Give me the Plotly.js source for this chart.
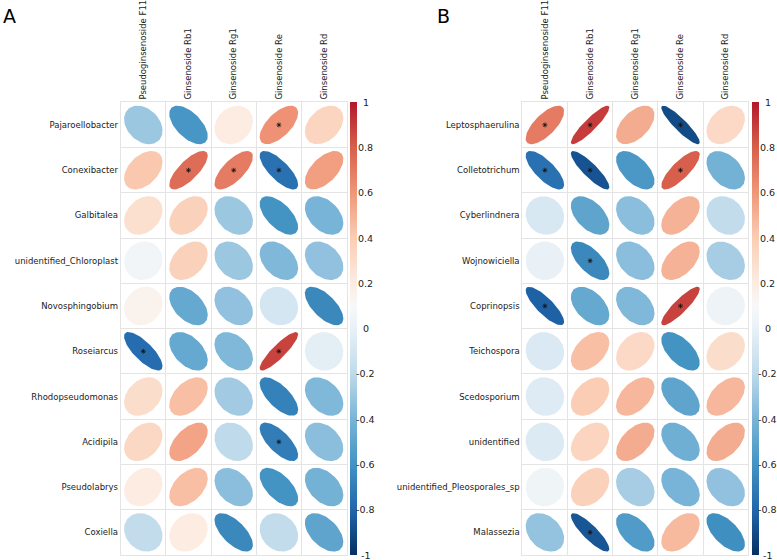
<!DOCTYPE html>
<html>
<head>
<meta charset="utf-8">
<script src="https://cdn.plot.ly/plotly-3.0.1.min.js"></script>
<style>html,body{margin:0;padding:0;background:#fff;}#chart{width:777px;height:560px;}</style>
</head>
<body>
<div id="chart"></div>
<script>
// ---------- data ----------
const columns = ["Pseudoginsenoside F11", "Ginsenoside Rb1", "Ginsenoside Rg1", "Ginsenoside Re", "Ginsenoside Rd"];

const rowsA = ["Pajaroellobacter", "Conexibacter", "Galbitalea", "unidentified_Chloroplast", "Novosphingobium",
               "Roseiarcus", "Rhodopseudomonas", "Acidipila", "Pseudolabrys", "Coxiella"];
const corrA = [
  [-0.30, -0.58,  0.20,  0.62,  0.35],
  [ 0.42,  0.75,  0.70, -0.75,  0.57],
  [ 0.28,  0.37, -0.30, -0.60, -0.40],
  [ 0.06,  0.37, -0.30, -0.38, -0.33],
  [ 0.15, -0.47, -0.33, -0.10, -0.65],
  [-0.77, -0.47, -0.38,  0.88, -0.03],
  [ 0.30,  0.45, -0.28, -0.68, -0.38],
  [ 0.33,  0.55, -0.20, -0.70, -0.35],
  [ 0.20,  0.45, -0.35, -0.60, -0.42],
  [-0.18,  0.20, -0.65, -0.18, -0.50]
];
const sigA = [
  [0,0,0,1,0],
  [0,1,1,1,0],
  [0,0,0,0,0],
  [0,0,0,0,0],
  [0,0,0,0,0],
  [1,0,0,1,0],
  [0,0,0,0,0],
  [0,0,0,1,0],
  [0,0,0,0,0],
  [0,0,0,0,0]
];

const rowsB = ["Leptosphaerulina", "Colletotrichum", "Cyberlindnera", "Wojnowiciella", "Coprinopsis",
               "Teichospora", "Scedosporium", "unidentified", "unidentified_Pleosporales_sp", "Malassezia"];
const corrB = [
  [ 0.70,  0.90,  0.52, -0.90,  0.32],
  [-0.75, -0.87, -0.57,  0.80, -0.42],
  [-0.08, -0.50, -0.35,  0.50, -0.18],
  [ 0.00, -0.65, -0.35,  0.50, -0.27],
  [-0.82, -0.47, -0.38,  0.88,  0.03],
  [-0.07,  0.45,  0.32, -0.60,  0.30],
  [-0.05,  0.40,  0.48, -0.50,  0.48],
  [-0.06,  0.35,  0.52, -0.43,  0.52],
  [ 0.04,  0.37, -0.27, -0.40, -0.33],
  [-0.32, -0.86, -0.55,  0.47, -0.62]
];
const sigB = [
  [1,1,0,1,0],
  [1,1,0,1,0],
  [0,0,0,0,0],
  [0,1,0,0,0],
  [1,0,0,1,0],
  [0,0,0,0,0],
  [0,0,0,0,0],
  [0,0,0,0,0],
  [0,0,0,0,0],
  [0,1,0,0,0]
];

const colorTicks = [-1, -0.8, -0.6, -0.4, -0.2, 0, 0.2, 0.4, 0.6, 0.8, 1];
const colorTickText = ["-1", "-0.8", "-0.6", "-0.4", "-0.2", "0", "0.2", "0.4", "0.6", "0.8", "1"];

// ---------- styling ----------
const W = 777, H = 560;
const FONT = "DejaVu Sans";
const stops = [
  [-1.0, [5, 48, 97]],
  [-0.8, [33, 102, 172]],
  [-0.6, [67, 147, 195]],
  [-0.4, [120, 180, 215]],
  [-0.2, [190, 218, 235]],
  [ 0.0, [233, 241, 247]],
  [ 0.1, [248, 248, 248]],
  [ 0.2, [252, 236, 226]],
  [ 0.4, [250, 205, 180]],
  [ 0.6, [240, 150, 120]],
  [ 0.8, [215, 95, 75]],
  [ 1.0, [178, 24, 43]]
];
const colorscale = stops.map(s => [(s[0] + 1) / 2, `rgb(${s[1].join(",")})`]);
function colorFor(v) {
  for (let i = 0; i < stops.length - 1; i++) {
    const [a, ca] = stops[i], [b, cb] = stops[i + 1];
    if (v >= a && v <= b) {
      const f = (v - a) / (b - a);
      const c = ca.map((x, k) => Math.round(x + f * (cb[k] - x)));
      return `rgb(${c.join(",")})`;
    }
  }
  return v < 0 ? `rgb(${stops[0][1].join(",")})` : `rgb(${stops[stops.length - 1][1].join(",")})`;
}

const RADIUS = 0.425;
const NPTS = 72;
function ellipse(cx, cy, r) {
  const d = Math.acos(Math.max(-1, Math.min(1, r)));
  const xs = [], ys = [];
  for (let i = 0; i <= NPTS; i++) {
    const t = 2 * Math.PI * i / NPTS;
    xs.push(cx + RADIUS * Math.cos(t + d / 2));
    ys.push(cy - RADIUS * Math.cos(t - d / 2));
  }
  return {xs, ys};
}

// colorbar geometry (pixels)
const CB_TOP = 102.3, CB_BOTTOM = 555, CB_W = 7;
const cbLen = (CB_BOTTOM - CB_TOP) / H;
const cbY0 = (H - CB_BOTTOM) / H;

const traces = [];
const annotations = [];
function addPanel(rows, corr, sig, xa, ya, cbXpx) {
  const xref = xa === 1 ? "x" : "x" + xa;
  const yref = ya === 1 ? "y" : "y" + ya;
  const cx = [], cy = [], cv = [], sx = [], sy = [];
  rows.forEach((rname, i) => {
    columns.forEach((cname, j) => {
      const v = corr[i][j];
      const e = ellipse(j + 1, i + 1, v);
      traces.push({
        type: "scatter", mode: "lines", x: e.xs, y: e.ys,
        fill: "toself", fillcolor: colorFor(v),
        line: {width: 0, color: colorFor(v)},
        xaxis: xref, yaxis: yref, showlegend: false, hoverinfo: "skip"
      });
      cx.push(j + 1); cy.push(i + 1); cv.push(v);
      if (sig[i][j]) { sx.push(j + 1); sy.push(i + 1); }
    });
  });
  traces.push({
    type: "scatter", mode: "markers", x: cx, y: cy,
    xaxis: xref, yaxis: yref, showlegend: false,
    marker: {
      color: cv, cmin: -1, cmax: 1, colorscale: colorscale, size: 30, opacity: 0,
      showscale: true,
      colorbar: {
        x: cbXpx / W, xanchor: "left", xpad: 0, y: cbY0 + cbLen / 2, yanchor: "middle", ypad: 0,
        len: cbLen, lenmode: "fraction", thickness: CB_W, thicknessmode: "pixels",
        outlinewidth: 0, ticks: "", showticklabels: false
      }
    },
    hovertemplate: "%{marker.color:.2f}<extra></extra>"
  });
  traces.push({
    type: "scatter", mode: "markers", x: sx, y: sy, xaxis: xref, yaxis: yref,
    showlegend: false, hoverinfo: "skip",
    marker: {symbol: "asterisk-open", size: 4, color: "#111", line: {color: "#111", width: 0.8}}
  });
  // colorbar tick labels, centred to the right of the bar
  colorTicks.forEach((v, k) => {
    annotations.push({
      text: colorTickText[k], xref: "paper", yref: "paper",
      x: (cbXpx + CB_W + 8.5) / W, y: cbY0 + (v + 1) / 2 * cbLen,
      xanchor: "center", yanchor: "middle", showarrow: false,
      font: {family: FONT, size: 9.5, color: "#222"}
    });
  });
}

addPanel(rowsA, corrA, sigA, 1, 1, 350);
addPanel(rowsB, corrB, sigB, 2, 2, 752.3);

const GRID = "#e4e4e4";
function xAxis(domain, anchor) {
  return {
    domain: domain, anchor: anchor, range: [0.5, 5.5], side: "top",
    tickmode: "array", tickvals: [1, 2, 3, 4, 5], ticktext: columns, tickangle: -90,
    ticks: "", showgrid: false, zeroline: false,
    minor: {tickmode: "linear", tick0: 0.5, dtick: 1, showgrid: true, gridcolor: GRID, gridwidth: 1, ticks: ""},
    showline: true, linecolor: GRID, linewidth: 1, mirror: true,
    tickfont: {family: FONT, size: 8.5, color: "#222"}, fixedrange: true
  };
}
function yAxis(domain, anchor, rows) {
  return {
    domain: domain, anchor: anchor, range: [10.5, 0.5],
    tickmode: "array", tickvals: rows.map((_, i) => i + 1), ticktext: rows,
    ticks: "", showgrid: false, zeroline: false,
    minor: {tickmode: "linear", tick0: 0.5, dtick: 1, showgrid: true, gridcolor: GRID, gridwidth: 1, ticks: ""},
    showline: true, linecolor: GRID, linewidth: 1, mirror: true,
    tickfont: {family: FONT, size: 8.5, color: "#222"}, fixedrange: true
  };
}
const yDom = [(H - 555) / H, (H - 102.3) / H];

annotations.push(
  {text: "A", xref: "paper", yref: "paper", x: 1 / W, y: 1 - 16 / H, xanchor: "left", yanchor: "middle",
   showarrow: false, font: {family: FONT, size: 19, color: "#000"}},
  {text: "B", xref: "paper", yref: "paper", x: 435 / W, y: 1 - 16 / H, xanchor: "left", yanchor: "middle",
   showarrow: false, font: {family: FONT, size: 19, color: "#000"}}
);

const layout = {
  width: W, height: H,
  margin: {l: 0, r: 0, t: 0, b: 0},
  paper_bgcolor: "#fff", plot_bgcolor: "#fff",
  font: {family: FONT, color: "#222"},
  showlegend: false,
  xaxis: xAxis([120.7 / W, 346.7 / W], "y"),
  yaxis: yAxis(yDom, "x", rowsA),
  xaxis2: xAxis([522.3 / W, 748.3 / W], "y2"),
  yaxis2: yAxis(yDom, "x2", rowsB),
  annotations: annotations
};

Plotly.newPlot("chart", traces, layout, {displayModeBar: false, staticPlot: true});
</script>
</body>
</html>
